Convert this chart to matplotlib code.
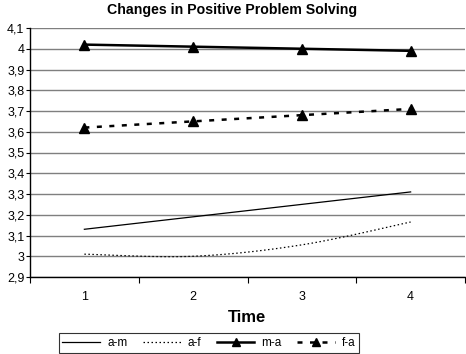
import numpy as np
import matplotlib
matplotlib.use("Agg")
import matplotlib.pyplot as plt
from matplotlib.lines import Line2D

plt.rcParams['font.family'] = ['Liberation Sans', 'DejaVu Sans']

time = [1, 2, 3, 4]
a_m = [3.13, 3.19, 3.25, 3.31]
a_f = [3.01, 3.00, 3.055, 3.165]
m_a = [4.02, 4.01, 4.00, 3.99]
f_a = [3.62, 3.65, 3.68, 3.71]
yticks = [2.9, 3.0, 3.1, 3.2, 3.3, 3.4, 3.5, 3.6, 3.7, 3.8, 3.9, 4.0, 4.1]
ytick_labels = ["2,9", "3", "3,1", "3,2", "3,3", "3,4", "3,5", "3,6", "3,7", "3,8", "3,9", "4", "4,1"]


def smooth(x, y, n=30):
    # Catmull-Rom style smoothing (like Excel smoothed lines)
    x = np.asarray(x, float); y = np.asarray(y, float)
    px = np.concatenate([[x[0]], x, [x[-1]]])
    py = np.concatenate([[y[0]], y, [y[-1]]])
    xs, ys = [], []
    for i in range(1, len(px) - 2):
        p0, p1, p2, p3 = (np.array([px[j], py[j]]) for j in (i - 1, i, i + 1, i + 2))
        c1 = p1 + (p2 - p0) / 6
        c2 = p2 - (p3 - p1) / 6
        t = np.linspace(0, 1, n)[:, None]
        pts = (1 - t) ** 3 * p1 + 3 * (1 - t) ** 2 * t * c1 + 3 * (1 - t) * t ** 2 * c2 + t ** 3 * p2
        xs.extend(pts[:, 0]); ys.extend(pts[:, 1])
    return np.array(xs), np.array(ys)


fig = plt.figure(figsize=(4.66, 3.54), dpi=100)
ax = fig.add_axes([30 / 466, 1 - 277 / 354, 435 / 466, 249 / 354])

for v in yticks:
    ax.axhline(v, color='#7f7f7f', lw=1.0, zorder=0)

sx, sy = smooth(time, a_m)
ax.plot(sx, sy, color='black', lw=0.9)
sx, sy = smooth(time, a_f)
ax.plot(sx, sy, color='black', lw=0.9, ls=(0, (1.2, 2)))
ax.plot(time, m_a, color='black', lw=1.8, marker='^', ms=7)
ax.plot(time, f_a, color='black', lw=1.8, ls=(0, (2, 3)), marker='^', ms=7)

ax.set_xlim(0.5, 4.5)
ax.set_ylim(2.9, 4.1)
ax.set_yticks(yticks)
ax.set_yticklabels(ytick_labels, fontsize=9)
ax.set_xticks([0.5, 1.5, 2.5, 3.5, 4.5])
ax.set_xticklabels([])
ax.set_xticks(time, minor=True)
ax.set_xticklabels([str(t) for t in time], minor=True, fontsize=9)
ax.tick_params(axis='x', which='minor', length=0, pad=10)
ax.tick_params(axis='x', which='major', length=4, direction='out', color='black')
ax.tick_params(axis='y', length=3, direction='out', pad=1)
for s in ['top', 'right']:
    ax.spines[s].set_visible(False)
for s in ['left', 'bottom']:
    ax.spines[s].set_color('black')
    ax.spines[s].set_linewidth(1.0)

fig.text(232 / 466, 1 - 10 / 354, "Changes in Positive Problem Solving", fontsize=10.2,
         fontweight='bold', ha='center', va='center')
fig.text(247 / 466, 1 - 317 / 354, "Time", fontsize=12, fontweight='bold',
         ha='center', va='center')

handles = [
    Line2D([], [], color='black', lw=0.9),
    Line2D([], [], color='black', lw=0.9, ls=(0, (1.2, 2))),
    Line2D([], [], color='black', lw=1.8, marker='^', ms=6),
    Line2D([], [], color='black', lw=1.8, ls=(0, (2, 3)), marker='^', ms=6),
]
leg = fig.legend(handles, ['a-m', 'a-f', 'm-a', 'f-a'], loc='center',
                 bbox_to_anchor=(209 / 466, 1 - 343 / 354),
                 ncol=4, fontsize=8.5, frameon=True, fancybox=False, handlelength=3.2,
                 borderpad=0.3, handletextpad=0.6, columnspacing=1.3, borderaxespad=0.0)
leg.get_frame().set_edgecolor('black')
leg.get_frame().set_linewidth(0.8)

fig.savefig("out.png", dpi=100)
